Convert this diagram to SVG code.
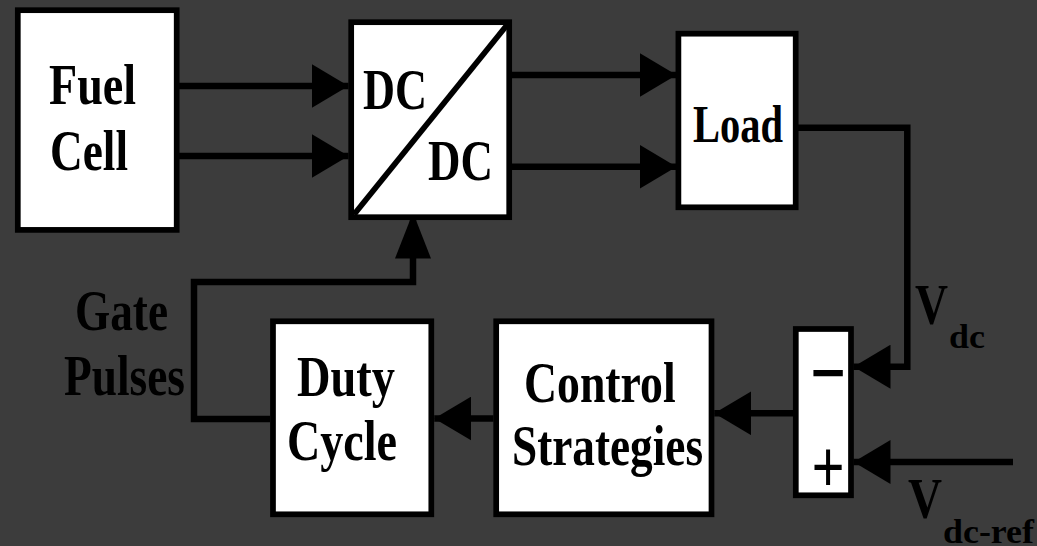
<svg xmlns="http://www.w3.org/2000/svg" width="1037" height="546" viewBox="0 0 1037 546">
  <style>
    .box { fill: #ffffff; stroke: #000000; stroke-width: 5.7; }
    .wire { fill: none; stroke: #000000; stroke-width: 6.5; stroke-linejoin: miter; stroke-linecap: butt; }
    .lbl { font-family: "Liberation Serif", "Times New Roman", serif; font-weight: bold; fill: #000000; }
    .big { font-size: 57px; }
    .sub { font-size: 34px; }
    .sign { font-family: "Liberation Sans", Arial, sans-serif; fill: #000000; }
  </style>
  <defs>
    <marker id="head" markerUnits="userSpaceOnUse" markerWidth="37" markerHeight="44" viewBox="0 0 37 44" refX="37" refY="22" orient="auto">
      <path d="M0,0 L37,22 L0,44 Z" fill="#000000"/>
    </marker>
    <marker id="headLong" markerUnits="userSpaceOnUse" markerWidth="46" markerHeight="36" viewBox="0 0 46 36" refX="46" refY="18" orient="auto">
      <path d="M0,0 L46,18 L0,36 Z" fill="#000000"/>
    </marker>
  </defs>

  <rect x="0" y="0" width="1037" height="546" fill="#3c3c3c"/>

  <!-- connectors -->
  <g id="connectors">
    <path class="wire" d="M179,86 H348.5" marker-end="url(#head)"/>
    <path class="wire" d="M179,156 H348.5" marker-end="url(#head)"/>
    <path class="wire" d="M511,75 H676.5" marker-end="url(#head)"/>
    <path class="wire" d="M511,166.7 H676.5" marker-end="url(#head)"/>
    <path class="wire" d="M798,127.7 H907.3 V366.7 H853.5" marker-end="url(#head)"/>
    <path class="wire" d="M1013,462 H853.5" marker-end="url(#head)"/>
    <path class="wire" d="M800,413.3 H714.3" marker-end="url(#head)"/>
    <path class="wire" d="M493.5,418.5 H434.3" marker-end="url(#head)"/>
    <path class="wire" d="M270,419 H194 V282 H413 V212.5" marker-end="url(#headLong)"/>
  </g>

  <!-- fuel cell -->
  <g id="fuel-cell">
    <rect class="box" x="17.8" y="10.2" width="158.9" height="219.7"/>
    <text class="lbl big" x="49" y="104" textLength="87" lengthAdjust="spacingAndGlyphs">Fuel</text>
    <text class="lbl big" x="50" y="170" textLength="78" lengthAdjust="spacingAndGlyphs">Cell</text>
  </g>

  <!-- DC/DC converter -->
  <g id="dc-dc">
    <rect class="box" x="351.2" y="22.2" width="158" height="195"/>
    <line x1="354" y1="214.5" x2="507" y2="25" stroke="#000000" stroke-width="5.7"/>
    <text class="lbl big" x="363" y="109.3" textLength="64" lengthAdjust="spacingAndGlyphs">DC</text>
    <text class="lbl big" x="428" y="180" textLength="65" lengthAdjust="spacingAndGlyphs">DC</text>
  </g>

  <!-- load -->
  <g id="load">
    <rect class="box" x="678.4" y="33.7" width="117.3" height="173.6"/>
    <text class="lbl" font-size="53" x="693" y="141.7" textLength="90" lengthAdjust="spacingAndGlyphs">Load</text>
  </g>

  <!-- summing junction -->
  <g id="sum">
    <rect class="box" x="795.8" y="329" width="55.2" height="166.3" stroke-width="6"/>
    <text class="sign" font-size="56" x="828" y="392" text-anchor="middle" stroke="#000000" stroke-width="2.2">−</text>
    <text class="sign" font-size="56" text-anchor="middle" transform="translate(828,491.3) scale(1,1.29)">+</text>
  </g>

  <!-- control strategies -->
  <g id="control">
    <rect class="box" x="496.2" y="321.3" width="215.3" height="193"/>
    <text class="lbl big" x="524" y="401.7" textLength="151.6" lengthAdjust="spacingAndGlyphs">Control</text>
    <text class="lbl big" x="512" y="465" textLength="191" lengthAdjust="spacingAndGlyphs">Strategies</text>
  </g>

  <!-- duty cycle -->
  <g id="duty-cycle">
    <rect class="box" x="273" y="321.3" width="158.3" height="193"/>
    <text class="lbl big" x="297" y="395.7" textLength="98" lengthAdjust="spacingAndGlyphs">Duty</text>
    <text class="lbl big" x="287" y="460" textLength="110" lengthAdjust="spacingAndGlyphs">Cycle</text>
  </g>

  <!-- signal labels -->
  <g id="gate-pulses">
    <text class="lbl big" x="75" y="330" textLength="93" lengthAdjust="spacingAndGlyphs">Gate</text>
    <text class="lbl big" x="64" y="395" textLength="121" lengthAdjust="spacingAndGlyphs">Pulses</text>
  </g>
  <g id="vdc">
    <text class="lbl big"><tspan x="915" y="324.3" textLength="33" lengthAdjust="spacingAndGlyphs">V</tspan><tspan class="sub" x="949" y="348.3" textLength="36" lengthAdjust="spacingAndGlyphs">dc</tspan></text>
  </g>
  <g id="vdc-ref">
    <text class="lbl big"><tspan x="908" y="518.3" textLength="34" lengthAdjust="spacingAndGlyphs">V</tspan><tspan class="sub" x="943" y="543.3" textLength="91" lengthAdjust="spacingAndGlyphs">dc-ref</tspan></text>
  </g>
</svg>
